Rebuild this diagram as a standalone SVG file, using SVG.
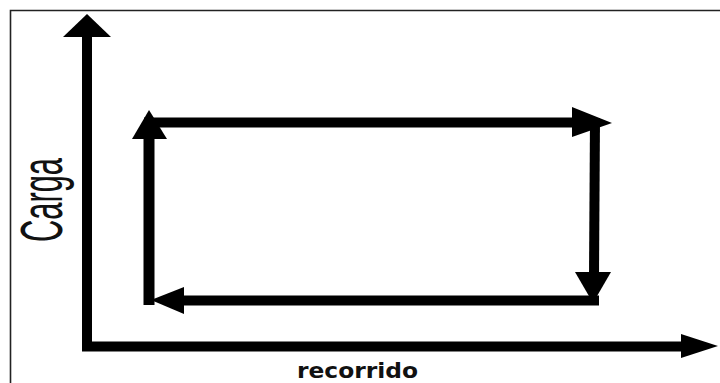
<svg xmlns="http://www.w3.org/2000/svg" width="720" height="383" viewBox="0 0 720 383">
  <style>
    .shaft { fill: none; stroke: #000; stroke-width: 10; stroke-linejoin: miter; }
    .head { fill: #000; }
    .frame { fill: none; stroke: #222; stroke-width: 1.6; }
    .ylabel { font-family: "Liberation Sans", Arial, sans-serif; font-size: 60px; fill: #111; }
    .xlabel { font-family: "DejaVu Sans", "Liberation Sans", sans-serif; font-weight: bold; font-size: 22px; fill: #111; }
  </style>
  <rect width="720" height="383" fill="#fff"/>
  <g id="frame">
    <polyline class="frame" points="10.5,383 10.5,10.5 720,10.5"/>
  </g>
  <g id="axes">
    <polyline class="shaft" points="87,34 87,346.5 684,346.5"/>
    <polygon class="head" points="87,14 63,37 111,37"/>
    <polygon class="head" points="718,346 681,334 681,358"/>
  </g>
  <g id="connectors">
    <line class="shaft" x1="144" y1="122.5" x2="576" y2="122.5"/>
    <polygon class="head" points="612,123 572,107 572,137"/>
    <line class="shaft" x1="595" y1="118" x2="594" y2="276"/>
    <polygon class="head" points="593,303 575,272 611,272"/>
    <line class="shaft" x1="599" y1="300.5" x2="180" y2="300.5"/>
    <polygon class="head" points="151,300 184,287 184,314"/>
    <line class="shaft" x1="149" y1="305" x2="149" y2="136" style="stroke-width:11"/>
    <polygon class="head" points="149,110 132,139 167,139"/>
  </g>
  <g id="label-carga">
    <text class="ylabel" transform="translate(62,200) rotate(-90)" text-anchor="middle" textLength="84" lengthAdjust="spacingAndGlyphs">Carga</text>
  </g>
  <g id="label-recorrido">
    <text class="xlabel" x="297" y="378" textLength="121" lengthAdjust="spacingAndGlyphs">recorrido</text>
  </g>
</svg>
